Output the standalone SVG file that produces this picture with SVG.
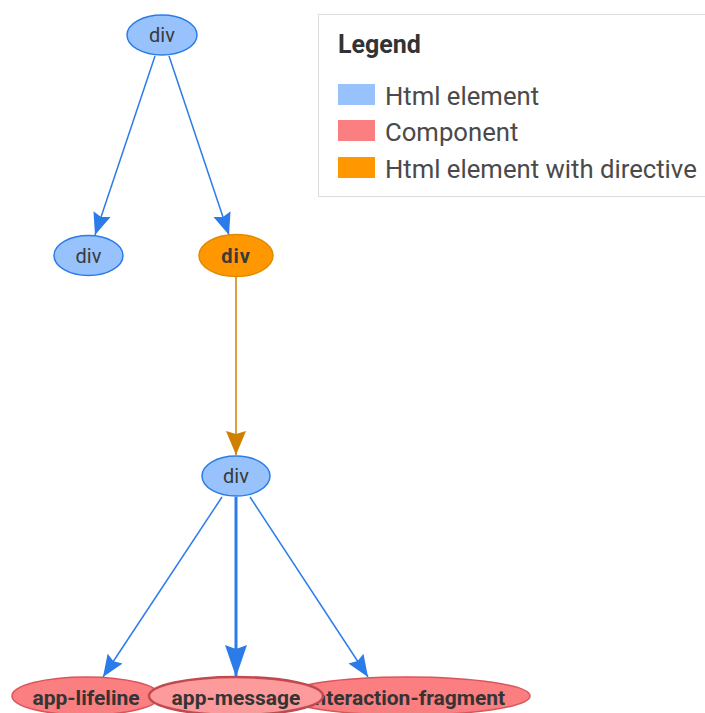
<svg xmlns="http://www.w3.org/2000/svg" width="705" height="713" viewBox="0 0 705 713">
<style>
.blue{fill:#97C2FC;stroke:#2B7CE9;stroke-width:1.5}
.orange{fill:#FF9800;stroke:#E08A00;stroke-width:1.5}
.red{fill:#FB7E81;stroke:#D9555A;stroke-width:1.5}
.redsel{fill:#FD9A9C;stroke:#C04A50;stroke-width:2.5}
.lbl{font-family:Roboto,"Liberation Sans",sans-serif;font-size:20px;fill:#3a3a3a;text-anchor:middle}
.blbl{font-family:Roboto,"Liberation Sans",sans-serif;font-size:21px;font-weight:bold;fill:#343434;text-anchor:middle}
.e{fill:none;stroke:#2B7CE9;stroke-width:1.5}
.legtxt{font-family:Roboto,"Liberation Sans",sans-serif;font-size:25.7px;fill:#4a4a4a}
</style>
<defs>
<marker id="ab" markerUnits="userSpaceOnUse" markerWidth="24" markerHeight="20" viewBox="0 0 24 20" refX="22" refY="10" orient="auto">
<path d="M0,1 L22,10 L0,19 L3,10 Z" fill="#2B7CE9"/>
</marker>
<marker id="abig" markerUnits="userSpaceOnUse" markerWidth="34" markerHeight="24" viewBox="0 0 34 24" refX="32" refY="12" orient="auto">
<path d="M0,1 L32,12 L0,23 L4,12 Z" fill="#2B7CE9"/>
</marker>
<marker id="ao" markerUnits="userSpaceOnUse" markerWidth="26" markerHeight="22" viewBox="0 0 26 22" refX="24" refY="11" orient="auto">
<path d="M0,1 L24,11 L0,21 L3,11 Z" fill="#D08000"/>
</marker>
</defs>

<g id="legend">
<rect x="318.5" y="14.5" width="400" height="182" fill="#fff" stroke="#dcdcdc" stroke-width="1"/>
<text x="338" y="53" style="font-family:Roboto,'Liberation Sans',sans-serif;font-size:25px;font-weight:bold;fill:#333">Legend</text>
<rect x="338" y="84" width="37" height="21" fill="#97C2FC"/>
<text x="385" y="105" class="legtxt">Html element</text>
<rect x="338" y="120" width="37" height="21" fill="#FB7E81"/>
<text x="385" y="141" class="legtxt">Component</text>
<rect x="338" y="157" width="37" height="21" fill="#FF9800"/>
<text x="385" y="178" class="legtxt">Html element with directive</text>
</g>

<g id="edges">
<line class="e" x1="155" y1="56" x2="95" y2="235" marker-end="url(#ab)"/>
<line class="e" x1="169" y1="56" x2="229" y2="235" marker-end="url(#ab)"/>
<line x1="236" y1="277" x2="236" y2="455" stroke="#D08000" stroke-width="1.5" marker-end="url(#ao)"/>
<line class="e" x1="222" y1="497" x2="103" y2="677" marker-end="url(#ab)"/>
<line x1="236" y1="497" x2="236" y2="677" stroke="#2B7CE9" stroke-width="3" marker-end="url(#abig)"/>
<line class="e" x1="250" y1="497" x2="368" y2="677" marker-end="url(#ab)"/>
</g>

<g id="node-div-root">
<ellipse class="blue" cx="162" cy="35" rx="35" ry="20"/>
<text class="lbl" x="162" y="42">div</text>
</g>
<g id="node-div-left">
<ellipse class="blue" cx="88.5" cy="255.5" rx="34.5" ry="20"/>
<text class="lbl" x="88.5" y="262.5">div</text>
</g>
<g id="node-div-directive">
<ellipse class="orange" cx="236" cy="255.5" rx="37" ry="21"/>
<text class="lbl" x="236" y="262.5" style="font-weight:bold;letter-spacing:1px">div</text>
</g>
<g id="node-div-inner">
<ellipse class="blue" cx="236" cy="476" rx="34" ry="20"/>
<text class="lbl" x="236" y="483">div</text>
</g>
<g id="node-app-lifeline">
<ellipse class="red" cx="86" cy="696" rx="74" ry="19"/>
<text class="blbl" x="86" y="705">app-lifeline</text>
</g>
<g id="node-interaction-fragment">
<ellipse class="red" cx="407" cy="696" rx="123" ry="19"/>
<text class="blbl" x="407" y="705">interaction-fragment</text>
</g>
<g id="node-app-message">
<ellipse class="redsel" cx="236" cy="696" rx="87" ry="19"/>
<text class="blbl" x="236" y="705">app-message</text>
</g>
</svg>
